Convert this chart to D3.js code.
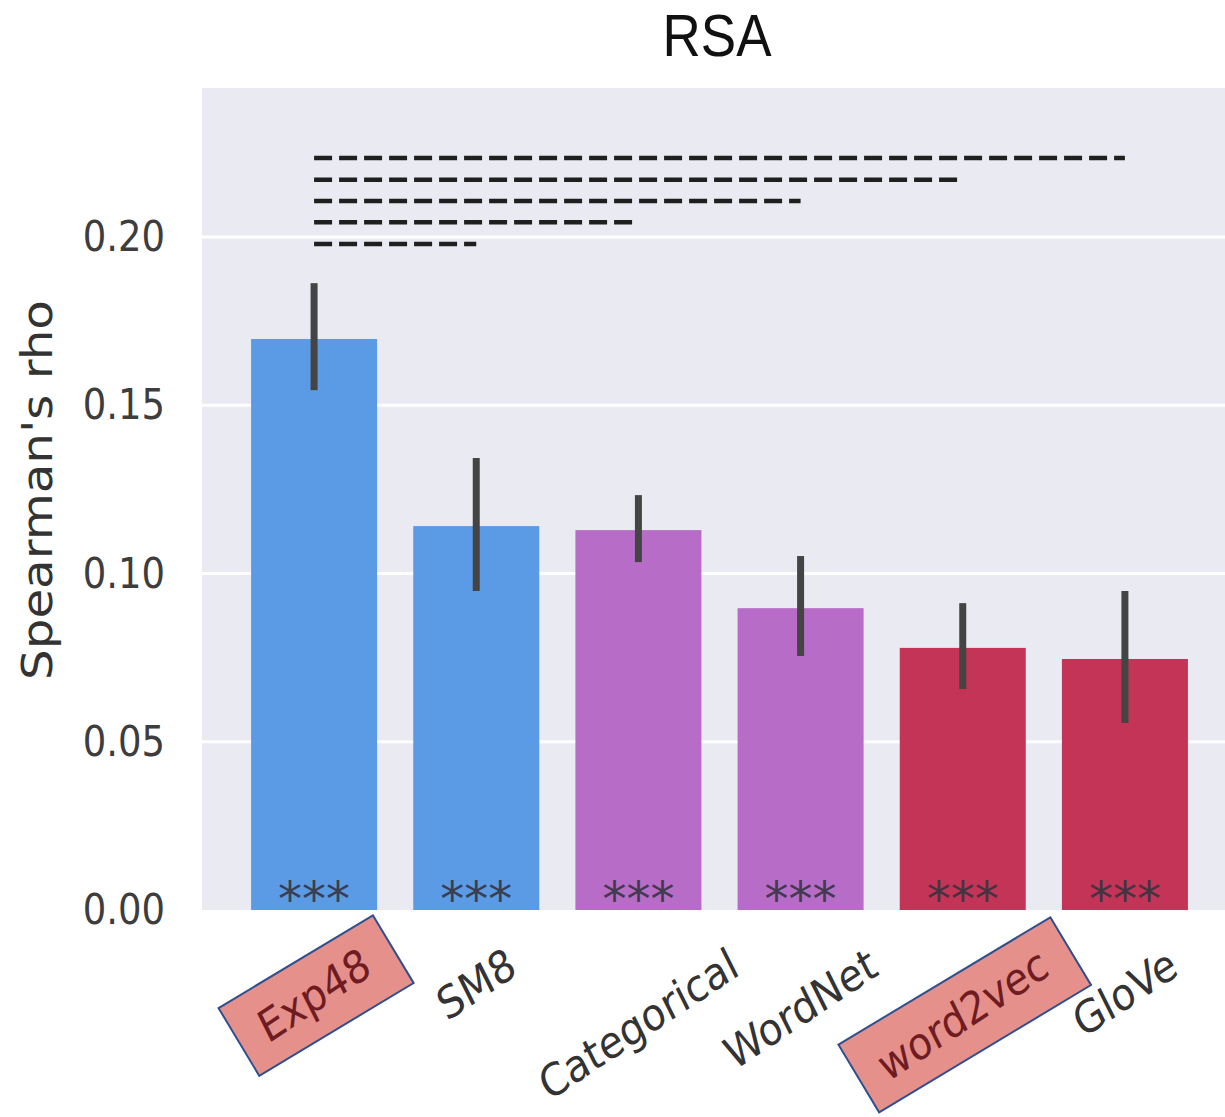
<!DOCTYPE html>
<html>
<head>
<meta charset="utf-8">
<script src="https://cdn.jsdelivr.net/npm/d3@7"></script>
<style>
  html, body { margin: 0; padding: 0; background: #ffffff; }
  svg { display: block; }
</style>
</head>
<body>
<div id="chart"></div>
<script>
// ---------------- data ----------------
const categories = ["Exp48", "SM8", "Categorical", "WordNet", "word2vec", "GloVe"];
const values     = [0.1697, 0.1141, 0.1129, 0.0897, 0.0779, 0.0746];
const errLow     = [0.1545, 0.0948, 0.1034, 0.0755, 0.0657, 0.0556];
const errHigh    = [0.1863, 0.1343, 0.1233, 0.1052, 0.0912, 0.0948];
const barColors  = ["#5b9ae5", "#5b9ae5", "#b76cc7", "#b76cc7", "#c43456", "#c43456"];
const sigStars   = ["***", "***", "***", "***", "***", "***"];
const highlighted = ["Exp48", "word2vec"];
// pairwise comparisons drawn as dashed lines (from, to, level)
const compFrom   = ["Exp48", "Exp48", "Exp48", "Exp48", "Exp48"];
const compTo     = ["SM8", "Categorical", "WordNet", "word2vec", "GloVe"];
const compLevel  = [0.1979, 0.2044, 0.2107, 0.2170, 0.2235];
const yTicks     = [0.00, 0.05, 0.10, 0.15, 0.20];
const yMax       = 0.2443;
const titleText  = "RSA";
const yLabelText = "Spearman's rho";

// ---------------- layout ----------------
const W = 1225, H = 1117;
const plot = { left: 202, right: 1225, top: 88, bottom: 910 };
const SY = 1.15; // vertical stretch of text seen in the reference

const svg = d3.select("#chart").append("svg")
  .attr("width", W).attr("height", H);

const x = d3.scaleBand()
  .domain(categories)
  .range([233, 1206])
  .paddingInner(0.223)
  .paddingOuter(0.1115);

const y = d3.scaleLinear()
  .domain([0, yMax])
  .range([plot.bottom, plot.top]);

// background
svg.append("rect")
  .attr("x", plot.left).attr("y", plot.top)
  .attr("width", plot.right - plot.left)
  .attr("height", plot.bottom - plot.top)
  .attr("fill", "#eaeaf2");

// grid lines
svg.append("g").selectAll("line")
  .data(yTicks.filter(d => d > 0))
  .join("line")
  .attr("x1", plot.left).attr("x2", plot.right)
  .attr("y1", d => y(d)).attr("y2", d => y(d))
  .attr("stroke", "#ffffff").attr("stroke-width", 3);

// y axis
const yAxis = svg.append("g")
  .attr("transform", `translate(${plot.left},0)`)
  .call(d3.axisLeft(y).tickValues(yTicks).tickFormat(d3.format(".2f")).tickSize(0).tickPadding(37));
yAxis.select(".domain").remove();
yAxis.selectAll("text")
  .attr("font-family", "DejaVu Sans, sans-serif")
  .attr("font-size", 37)
  .attr("fill", "#3d3d3d")
  .attr("transform", `scale(1,${SY})`);

// bars
const idx = d3.range(categories.length);
svg.append("g").selectAll("rect")
  .data(idx)
  .join("rect")
  .attr("x", i => x(categories[i]))
  .attr("width", x.bandwidth())
  .attr("y", i => y(values[i]))
  .attr("height", i => y(0) - y(values[i]))
  .attr("fill", i => barColors[i]);

// error bars
svg.append("g").selectAll("line")
  .data(idx)
  .join("line")
  .attr("x1", i => x(categories[i]) + x.bandwidth() / 2)
  .attr("x2", i => x(categories[i]) + x.bandwidth() / 2)
  .attr("y1", i => y(errLow[i]))
  .attr("y2", i => y(errHigh[i]))
  .attr("stroke", "#444444")
  .attr("stroke-width", 7);

// significance stars
svg.append("g").selectAll("text")
  .data(idx)
  .join("text")
  .attr("x", i => x(categories[i]) + x.bandwidth() / 2)
  .attr("y", y(0) + 6)
  .attr("text-anchor", "middle")
  .attr("font-family", "DejaVu Sans, sans-serif")
  .attr("font-size", 48)
  .attr("fill", "#33333f")
  .attr("fill-opacity", 0.9)
  .text(i => sigStars[i]);

// comparison dashed lines
svg.append("g").selectAll("line")
  .data(d3.range(compTo.length))
  .join("line")
  .attr("x1", i => x(compFrom[i]) + x.bandwidth() / 2)
  .attr("x2", i => x(compTo[i]) + x.bandwidth() / 2)
  .attr("y1", i => y(compLevel[i]))
  .attr("y2", i => y(compLevel[i]))
  .attr("stroke", "#1f1f1f")
  .attr("stroke-width", 4.5)
  .attr("stroke-dasharray", "18,7");

// x labels (rotated, centred under tick, matplotlib-style)
const labelFont = 39;
const labelTop = 941;
const rot = 30;
const xl = svg.append("g");
categories.forEach((c, i) => {
  const cx = x(c) + x.bandwidth() / 2;
  const isHi = highlighted.includes(c);
  const t = xl.append("text")
    .attr("text-anchor", "middle")
    .attr("dominant-baseline", "central")
    .attr("font-family", "DejaVu Sans, sans-serif")
    .attr("font-size", labelFont)
    .attr("fill", isHi ? "#6e1c22" : "#333333")
    .text(c);
  const L = t.node().getComputedTextLength();
  const rad = rot * Math.PI / 180;
  const bh = (L * Math.sin(rad) + labelFont * Math.cos(rad)) * SY;
  const cy = labelTop + bh / 2;
  t.attr("transform", `translate(${cx},${cy}) scale(1,${SY}) rotate(${-rot})`);
  if (isHi) {
    xl.insert("rect", "text")
      .attr("x", -(L + 58) / 2)
      .attr("y", -39.5)
      .attr("width", L + 58)
      .attr("height", 79)
      .attr("fill", "#e6908b")
      .attr("stroke", "#2f4f8f")
      .attr("stroke-width", 2)
      .attr("transform", `translate(${cx + 2},${cy}) rotate(-31)`);
  }
});

// y label
svg.append("text")
  .attr("transform", `translate(38,490) scale(1,${SY}) rotate(-90)`)
  .attr("text-anchor", "middle")
  .attr("dominant-baseline", "central")
  .attr("font-family", "DejaVu Sans, sans-serif")
  .attr("font-size", 42)
  .attr("fill", "#333333")
  .text(yLabelText);

// title
svg.append("text")
  .attr("transform", `translate(717,56) scale(1,1.1)`)
  .attr("text-anchor", "middle")
  .attr("font-family", "Liberation Sans, Arial, sans-serif")
  .attr("font-size", 53)
  .attr("fill", "#111111")
  .text(titleText);
</script>
</body>
</html>
